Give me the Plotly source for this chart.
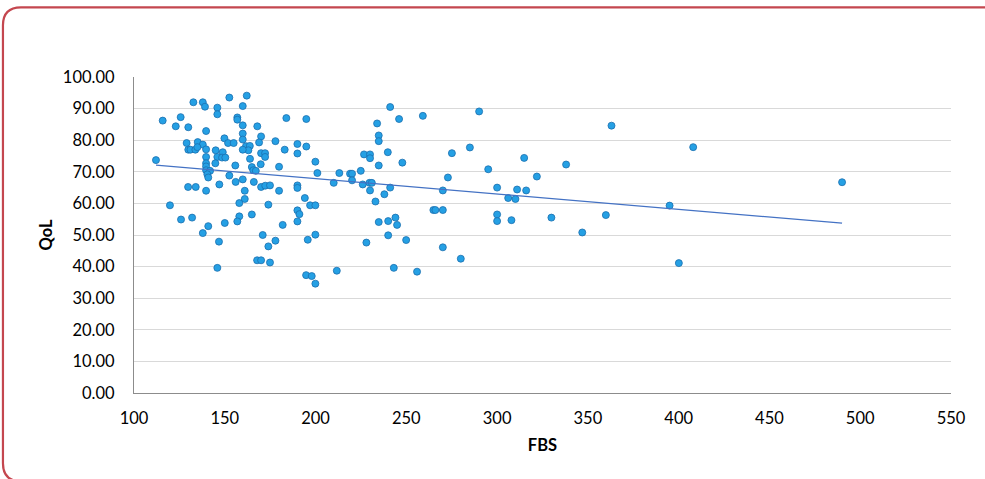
import numpy as np
import plotly.graph_objects as go

fbs = [
    152.5, 132.7, 137.9, 139.1, 145.9, 145.9, 115.8, 125.7, 123.0, 129.9,
    139.7, 149.8, 151.8, 129.0, 135.1, 137.9, 129.9, 131.1, 133.8, 134.9,
    139.7, 145.0, 148.9, 139.7, 145.9, 148.5, 150.3, 112.1, 139.7, 144.8,
    139.7, 139.7, 141.9, 140.4, 140.9, 152.5, 129.8, 134.0, 147.0, 139.7,
    119.8,
    125.9, 132.0, 140.9, 137.9, 150.0, 146.8, 145.9,
    162.1, 159.9, 156.9, 156.9, 159.9, 167.9, 183.9, 194.9, 159.9, 170.0,
    159.9, 154.9, 168.9, 177.9, 190.0, 194.9, 161.7, 163.8, 163.0, 159.9,
    183.0, 190.0, 170.0, 172.2, 172.2, 163.9, 155.8, 169.8, 199.9, 164.9,
    165.7, 167.1, 179.9, 201.0, 213.1, 156.0, 159.9, 166.0, 170.0, 172.3,
    174.9, 179.9, 190.0, 190.0, 210.0, 161.0, 161.0, 158.0, 174.0, 194.1,
    197.0, 199.9, 190.0,
    191.1, 190.0, 164.9, 158.0, 156.9, 181.9, 170.9, 177.9, 174.0, 195.7,
    199.9, 167.8, 170.0, 174.9, 194.8, 197.9, 199.9, 211.7,
    241.1, 290.1, 246.0, 259.1, 233.9, 234.8, 234.8, 226.7, 230.0, 230.0,
    239.8, 247.8, 234.8, 275.1, 285.0, 314.9, 219.0, 220.1, 224.9, 220.1,
    226.0, 229.7, 231.0, 230.0, 241.1, 237.9, 233.0, 272.9, 295.1, 270.1,
    300.0, 311.0, 316.0, 306.1, 310.1, 264.9, 266.0, 270.1, 234.8, 240.0,
    244.0, 244.9, 300.0, 300.0, 307.9, 240.0, 228.0, 249.9, 270.1, 280.0,
    243.1, 255.9,
    363.0, 408.0, 338.0, 321.9, 490.0, 395.0, 329.9, 359.9, 346.9, 400.1,
]

qol = [
    93.5, 92.0, 92.0, 90.6, 90.3, 88.2, 86.2, 87.3, 84.4, 84.1,
    82.9, 80.6, 79.1, 79.1, 79.4, 78.6, 77.0, 77.0, 77.0, 77.8,
    77.1, 76.8, 76.2, 74.7, 74.7, 74.5, 74.5, 73.7, 72.7, 72.7,
    71.7, 70.5, 70.3, 69.2, 68.2, 68.8, 65.2, 65.2, 66.0, 64.0,
    59.4,
    54.9, 55.5, 52.8, 50.6, 53.8, 47.9, 39.6,
    94.1, 90.8, 87.2, 86.5, 84.7, 84.4, 87.0, 86.7, 82.1, 81.2,
    80.2, 79.1, 79.3, 79.7, 78.8, 78.0, 78.1, 78.2, 76.8, 77.0,
    77.0, 75.8, 75.9, 75.9, 74.7, 74.1, 72.0, 72.4, 73.2, 71.5,
    70.5, 70.3, 71.6, 69.6, 69.6, 66.8, 67.6, 66.8, 65.2, 65.6,
    65.7, 64.0, 65.7, 64.9, 66.5, 64.0, 61.4, 60.1, 59.6, 61.7,
    59.4, 59.4, 57.8,
    56.6, 54.3, 56.5, 55.9, 54.3, 53.2, 50.0, 48.2, 46.4, 48.5,
    50.1, 42.0, 42.0, 41.3, 37.3, 37.0, 34.6, 38.7,
    90.5, 89.1, 86.7, 87.7, 85.3, 81.5, 79.7, 75.5, 75.5, 74.3,
    76.2, 72.9, 72.0, 75.9, 77.7, 74.4, 69.4, 69.4, 70.3, 67.3,
    66.0, 66.5, 66.5, 64.1, 65.0, 62.9, 60.6, 68.2, 70.8, 64.1,
    65.0, 64.4, 64.1, 61.7, 61.4, 57.9, 57.9, 57.9, 54.1, 54.4,
    55.5, 53.2, 56.5, 54.4, 54.7, 49.9, 47.6, 48.4, 46.1, 42.5,
    39.6, 38.4,
    84.6, 77.8, 72.3, 68.5, 66.7, 59.3, 55.5, 56.3, 50.8, 41.1,
]

x_ticks = [100, 150, 200, 250, 300, 350, 400, 450, 500, 550]
y_ticks = [0, 10, 20, 30, 40, 50, 60, 70, 80, 90, 100]
grid_vals = [10, 20, 30, 40, 50, 60, 70, 80, 90]

x_arr = np.array(fbs)
y_arr = np.array(qol)
slope, intercept = np.polyfit(x_arr, y_arr, 1)
trend_x = [float(x_arr.min()), float(x_arr.max())]
trend_y = [slope * v + intercept for v in trend_x]

FONT = "Lato"

fig = go.Figure()
fig.add_trace(go.Scatter(
    x=fbs, y=qol, mode="markers",
    marker=dict(size=7, color="#25A0E4", line=dict(color="#1B6FAE", width=0.8)),
    showlegend=False, hoverinfo="x+y",
))
fig.add_trace(go.Scatter(
    x=trend_x, y=trend_y, mode="lines",
    line=dict(color="#4472C4", width=1.3),
    showlegend=False, hoverinfo="skip",
))
# invisible trace on overlay axis to carry the gridlines
fig.add_trace(go.Scatter(
    x=[100], y=[0], yaxis="y2", mode="markers",
    marker=dict(opacity=0), showlegend=False, hoverinfo="skip",
))

L, T = 134, 76.7
PW, PH = 816.7, 316.0
W, H = 985, 479


def px(xp):
    return (xp - L) / PW


def py(yp):
    return (T + PH - yp) / PH


# rounded frame around the chart area
x0, x1, y0, y1, r = 3.0, 1000.0, 7.0, 481.0, 18.0
path = (
    f"M {px(x0 + r)},{py(y0)} L {px(x1 - r)},{py(y0)} "
    f"Q {px(x1)},{py(y0)} {px(x1)},{py(y0 + r)} "
    f"L {px(x1)},{py(y1 - r)} Q {px(x1)},{py(y1)} {px(x1 - r)},{py(y1)} "
    f"L {px(x0 + r)},{py(y1)} Q {px(x0)},{py(y1)} {px(x0)},{py(y1 - r)} "
    f"L {px(x0)},{py(y0 + r)} Q {px(x0)},{py(y0)} {px(x0 + r)},{py(y0)} Z"
)

fig.update_layout(
    width=W, height=H,
    margin=dict(l=L, r=W - L - PW, t=T, b=H - T - PH, pad=0),
    paper_bgcolor="white", plot_bgcolor="white",
    font=dict(family=FONT, size=16.5, color="#000000"),
    xaxis=dict(
        range=[100, 550], tickvals=x_ticks, ticktext=[str(v) for v in x_ticks],
        showgrid=False, zeroline=False, showline=True, linecolor="#8C8C8C", linewidth=1.2,
        ticks="", ticklabelstandoff=10,
        title=dict(text="<b>FBS</b>", font=dict(family=FONT, size=16.5), standoff=12),
    ),
    yaxis=dict(
        range=[0, 100], tickvals=y_ticks, ticktext=[f"{v:.2f}" for v in y_ticks],
        showgrid=False, zeroline=False, showline=True, linecolor="#8C8C8C", linewidth=1.2,
        ticks="", ticklabelstandoff=15,
        title=dict(text="<b>QoL</b>", font=dict(family=FONT, size=16.5), standoff=6),
    ),
    yaxis2=dict(
        range=[0, 100], overlaying="y", tickvals=grid_vals, showticklabels=False,
        showgrid=True, gridcolor="#D9D9D9", gridwidth=1.2, zeroline=False, showline=False,
        layer="below traces",
    ),
    shapes=[dict(type="path", path=path, xref="paper", yref="paper",
                 line=dict(color="#C4474F", width=2.2), fillcolor="rgba(0,0,0,0)",
                 layer="above")],
)

fig.write_html("out.html")
